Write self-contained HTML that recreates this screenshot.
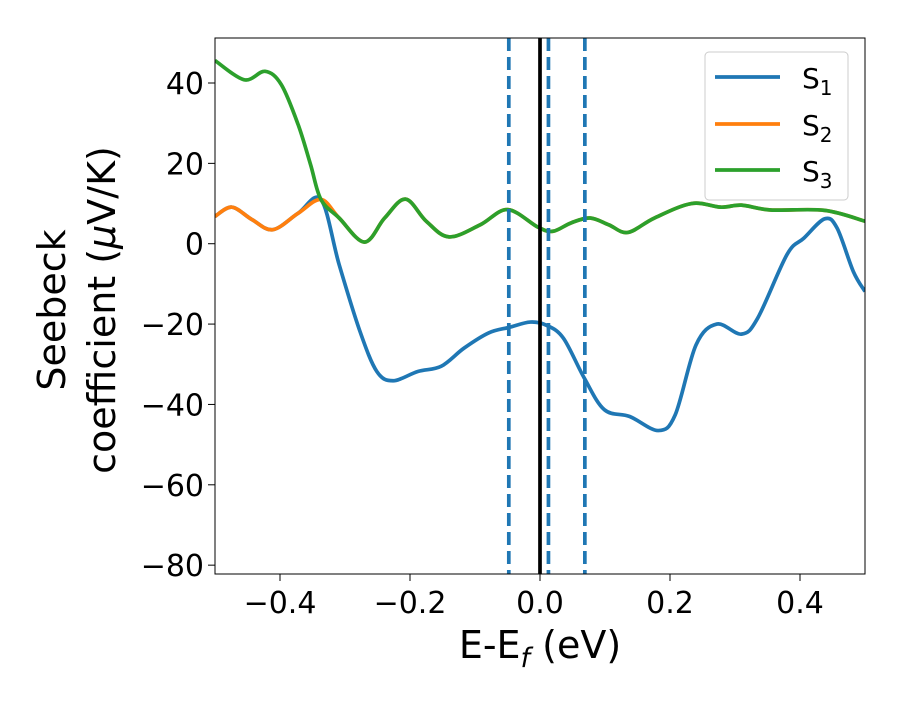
<!DOCTYPE html>
<html><head><meta charset="utf-8"><style>
body{margin:0;background:#fff}
svg{font-family:"DejaVu Sans","Liberation Sans",sans-serif}
</style></head><body>
<svg id="chart" width="900" height="700" xmlns="http://www.w3.org/2000/svg">
<rect width="900" height="700" fill="#fff"/>
<g id="plot"></g>
</svg>
<script>
const s1x=[-0.5,-0.474,-0.443,-0.411,-0.372,-0.337,-0.309,-0.277,-0.251,-0.226,-0.188,-0.152,-0.117,-0.079,-0.047,-0.015,0.010,0.036,0.068,0.099,0.138,0.182,0.208,0.240,0.272,0.310,0.335,0.380,0.406,0.438,0.457,0.482,0.5];
const s1y=[6.8,9.1,6,3.5,7.6,11,-5.2,-21.8,-31.8,-34.1,-31.8,-30.5,-26,-22.2,-20.8,-19.5,-20.3,-23.5,-33.4,-41.3,-43,-46.5,-42.6,-25.2,-20,-22.5,-18.5,-2.7,1.4,6.2,3.9,-6.9,-11.9];
const s2x=[-0.5,-0.474,-0.443,-0.411,-0.372,-0.337,-0.309,-0.270,-0.239,-0.207,-0.175,-0.140,-0.092,-0.050,-0.003,0.020,0.048,0.077,0.106,0.135,0.176,0.233,0.278,0.310,0.355,0.438,0.5];
const s2y=[6.8,9.1,6,3.5,7.6,11,6.4,0.4,6.4,11.1,5.6,1.7,4.7,8.5,4.1,3.1,5.2,6.4,4.7,2.8,6.4,10,9.1,9.6,8.4,8.3,5.6];
const s3x=[-0.5,-0.455,-0.423,-0.398,-0.372,-0.353,-0.337,-0.309,-0.270,-0.239,-0.207,-0.175,-0.140,-0.092,-0.050,-0.003,0.020,0.048,0.077,0.106,0.135,0.176,0.233,0.278,0.310,0.355,0.438,0.5];
const s3y=[45.6,40.8,42.9,39.6,29.6,19.7,11,6.4,0.4,6.4,11.1,5.6,1.7,4.7,8.5,4.1,3.1,5.2,6.4,4.7,2.8,6.4,10,9.1,9.6,8.4,8.3,5.6];
const dashedX=[-0.048,0.013,0.069];
const fermiX=[0];
const xTicks=[-0.4,-0.2,0.0,0.2,0.4];
const xTickLabels=["\u22120.4","\u22120.2","0.0","0.2","0.4"];
const yTicks=[40,20,0,-20,-40,-60,-80];
const yTickLabels=["40","20","0","\u221220","\u221240","\u221260","\u221280"];
const L=215,R=865,T=38,B=574,XMIN=-0.5,XMAX=0.5,YMIN=-82.2,YMAX=51.2;
const sx=v=>L+(v-XMIN)/(XMAX-XMIN)*(R-L);
const sy=v=>B-(v-YMIN)/(YMAX-YMIN)*(B-T);
const NS="http://www.w3.org/2000/svg";
const g=document.getElementById('plot');
function mk(tag,attrs,parent){const e=document.createElementNS(NS,tag);for(const k in attrs)e.setAttribute(k,attrs[k]);(parent||g).appendChild(e);return e;}
function pathFor(xs,ys){const p=xs.map((x,i)=>[sx(x),sy(ys[i])]);let d=`M${p[0][0]},${p[0][1]}`;
for(let i=0;i<p.length-1;i++){const p0=p[Math.max(0,i-1)],p1=p[i],p2=p[i+1],p3=p[Math.min(p.length-1,i+2)];
const c1=[p1[0]+(p2[0]-p0[0])/6,p1[1]+(p2[1]-p0[1])/6],c2=[p2[0]-(p3[0]-p1[0])/6,p2[1]-(p3[1]-p1[1])/6];
d+=` C${c1[0]},${c1[1]} ${c2[0]},${c2[1]} ${p2[0]},${p2[1]}`;}return d;}
const defs=mk('defs',{});const cp=mk('clipPath',{id:'clip'},defs);mk('rect',{x:L,y:T,width:R-L,height:B-T},cp);
const pg=mk('g',{'clip-path':'url(#clip)'});
const series=[[s1x,s1y,'#1f77b4','series-s1'],[s2x,s2y,'#ff7f0e','series-s2'],[s3x,s3y,'#2ca02c','series-s3']];
series.forEach(s=>{const e=mk('path',{d:pathFor(s[0],s[1]),fill:'none',stroke:s[2],'stroke-width':3.7},pg);

});
dashedX.forEach(v=>{const e=mk('line',{x1:sx(v),x2:sx(v),y1:T,y2:B,stroke:'#1f77b4','stroke-width':3.7,'stroke-dasharray':'13,6'},pg);

});
fermiX.forEach(v=>{const e=mk('line',{x1:sx(v),x2:sx(v),y1:T,y2:B,stroke:'#000','stroke-width':3.7},pg);

});
const fr=mk('rect',{x:L,y:T,width:R-L,height:B-T,fill:'none',stroke:'#000','stroke-width':1});


xTicks.forEach((v,i)=>{mk('line',{x1:sx(v),x2:sx(v),y1:B,y2:B+7,stroke:'#000','stroke-width':1});
const t=mk('text',{x:sx(v),y:B+39,'text-anchor':'middle','font-size':30});t.textContent=xTickLabels[i];

});
yTicks.forEach((v,i)=>{mk('line',{x1:L-7,x2:L,y1:sy(v),y2:sy(v),stroke:'#000','stroke-width':1});
const t=mk('text',{x:L-11,y:sy(v)+11,'text-anchor':'end','font-size':30});t.textContent=yTickLabels[i];

});
</script>
<svg width="900" height="700" style="position:absolute;left:0;top:0" xmlns="http://www.w3.org/2000/svg">
<text x="540" y="658" text-anchor="middle" font-size="38" font-family="DejaVu Sans,Liberation Sans,sans-serif">E-E<tspan font-style="italic" font-size="27" dy="9">f</tspan><tspan dy="-9"> (eV)</tspan></text>
<g transform="translate(65,310) rotate(-90)" font-size="38" font-family="DejaVu Sans,Liberation Sans,sans-serif">
<text x="0" y="0" text-anchor="middle">Seebeck</text>
<text x="0" y="50" text-anchor="middle">coefficient  (<tspan font-style="italic">μ</tspan>V/K)</text>
</g>
<g font-family="DejaVu Sans,Liberation Sans,sans-serif" font-size="28">
<rect x="705" y="52" width="143" height="148" rx="4" fill="#fff" fill-opacity="0.8" stroke="#ccc"/>
<g><line x1="715" x2="780" y1="77" y2="77" stroke="#1f77b4" stroke-width="3.7"/><text x="802" y="88">S<tspan font-size="20" dy="7">1</tspan></text></g>
<g><line x1="715" x2="780" y1="124" y2="124" stroke="#ff7f0e" stroke-width="3.7"/><text x="802" y="135">S<tspan font-size="20" dy="7">2</tspan></text></g>
<g><line x1="715" x2="780" y1="170" y2="170" stroke="#2ca02c" stroke-width="3.7"/><text x="802" y="181">S<tspan font-size="20" dy="7">3</tspan></text></g>
</g>
</svg>
</body></html>
